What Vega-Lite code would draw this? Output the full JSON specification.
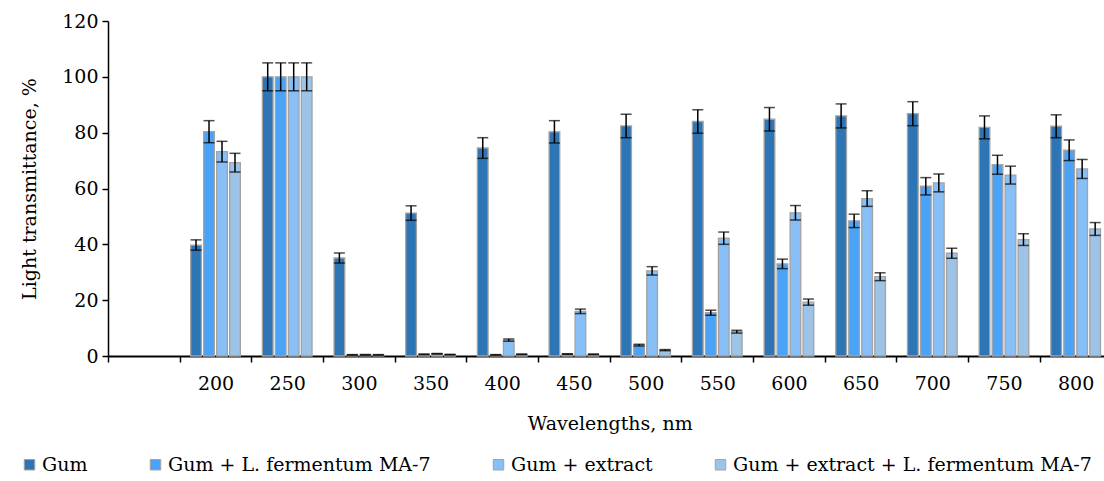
{
  "$schema": "https://vega.github.io/schema/vega-lite/v6.json",
  "autosize": "none",
  "padding": {"left": 108, "top": 21, "right": 0, "bottom": 125},
  "width": 996,
  "height": 335,
  "background": "white",
  "config": {
    "font": "DejaVu Serif",
    "view": {"stroke": null},
    "axis": {"labelFont": "DejaVu Serif", "titleFont": "DejaVu Serif", "labelColor": "black", "titleColor": "black", "titleFontWeight": "normal", "labelFontSize": 19, "titleFontSize": 19},
    "legend": {"labelFont": "DejaVu Serif"}
  },
  "data": {"values": [
    {"wl": "200", "s": "Gum", "v": 39.7, "lo": 37.9, "hi": 41.6},
    {"wl": "200", "s": "Gum + L. fermentum MA-7", "v": 80.4, "lo": 76.4, "hi": 84.3},
    {"wl": "200", "s": "Gum + extract", "v": 73.2, "lo": 69.5, "hi": 76.9},
    {"wl": "200", "s": "Gum + extract + L. fermentum MA-7", "v": 69.3, "lo": 65.9, "hi": 72.6},
    {"wl": "250", "s": "Gum", "v": 100, "lo": 95, "hi": 105},
    {"wl": "250", "s": "Gum + L. fermentum MA-7", "v": 100, "lo": 95, "hi": 105},
    {"wl": "250", "s": "Gum + extract", "v": 100, "lo": 95, "hi": 105},
    {"wl": "250", "s": "Gum + extract + L. fermentum MA-7", "v": 100, "lo": 95, "hi": 105},
    {"wl": "300", "s": "Gum", "v": 35.1, "lo": 33.3, "hi": 36.9},
    {"wl": "300", "s": "Gum + L. fermentum MA-7", "v": 0.4, "lo": 0.3, "hi": 0.5},
    {"wl": "300", "s": "Gum + extract", "v": 0.4, "lo": 0.3, "hi": 0.5},
    {"wl": "300", "s": "Gum + extract + L. fermentum MA-7", "v": 0.4, "lo": 0.3, "hi": 0.5},
    {"wl": "350", "s": "Gum", "v": 51.2, "lo": 48.6, "hi": 53.8},
    {"wl": "350", "s": "Gum + L. fermentum MA-7", "v": 0.6, "lo": 0.5, "hi": 0.7},
    {"wl": "350", "s": "Gum + extract", "v": 0.8, "lo": 0.7, "hi": 0.9},
    {"wl": "350", "s": "Gum + extract + L. fermentum MA-7", "v": 0.5, "lo": 0.4, "hi": 0.6},
    {"wl": "400", "s": "Gum", "v": 74.5, "lo": 70.8, "hi": 78.2},
    {"wl": "400", "s": "Gum + L. fermentum MA-7", "v": 0.4, "lo": 0.3, "hi": 0.5},
    {"wl": "400", "s": "Gum + extract", "v": 5.7, "lo": 5.3, "hi": 6.1},
    {"wl": "400", "s": "Gum + extract + L. fermentum MA-7", "v": 0.6, "lo": 0.5, "hi": 0.7},
    {"wl": "450", "s": "Gum", "v": 80.3, "lo": 76.3, "hi": 84.3},
    {"wl": "450", "s": "Gum + L. fermentum MA-7", "v": 0.7, "lo": 0.6, "hi": 0.8},
    {"wl": "450", "s": "Gum + extract", "v": 16.0, "lo": 15.2, "hi": 16.8},
    {"wl": "450", "s": "Gum + extract + L. fermentum MA-7", "v": 0.6, "lo": 0.5, "hi": 0.7},
    {"wl": "500", "s": "Gum", "v": 82.4, "lo": 78.2, "hi": 86.6},
    {"wl": "500", "s": "Gum + L. fermentum MA-7", "v": 3.9, "lo": 3.6, "hi": 4.2},
    {"wl": "500", "s": "Gum + extract", "v": 30.5, "lo": 29.0, "hi": 32.0},
    {"wl": "500", "s": "Gum + extract + L. fermentum MA-7", "v": 2.1, "lo": 1.9, "hi": 2.3},
    {"wl": "550", "s": "Gum", "v": 84.0, "lo": 79.8, "hi": 88.2},
    {"wl": "550", "s": "Gum + L. fermentum MA-7", "v": 15.5, "lo": 14.6, "hi": 16.4},
    {"wl": "550", "s": "Gum + extract", "v": 42.2, "lo": 40.0, "hi": 44.4},
    {"wl": "550", "s": "Gum + extract + L. fermentum MA-7", "v": 8.7, "lo": 8.2, "hi": 9.2},
    {"wl": "600", "s": "Gum", "v": 84.8, "lo": 80.6, "hi": 89.0},
    {"wl": "600", "s": "Gum + L. fermentum MA-7", "v": 33.0, "lo": 31.3, "hi": 34.7},
    {"wl": "600", "s": "Gum + extract", "v": 51.3, "lo": 48.7, "hi": 53.9},
    {"wl": "600", "s": "Gum + extract + L. fermentum MA-7", "v": 19.3, "lo": 18.2, "hi": 20.4},
    {"wl": "650", "s": "Gum", "v": 86.0, "lo": 81.7, "hi": 90.3},
    {"wl": "650", "s": "Gum + L. fermentum MA-7", "v": 48.4, "lo": 46.0, "hi": 50.8},
    {"wl": "650", "s": "Gum + extract", "v": 56.4, "lo": 53.6, "hi": 59.2},
    {"wl": "650", "s": "Gum + extract + L. fermentum MA-7", "v": 28.4, "lo": 27.0, "hi": 29.8},
    {"wl": "700", "s": "Gum", "v": 86.8, "lo": 82.5, "hi": 91.1},
    {"wl": "700", "s": "Gum + L. fermentum MA-7", "v": 60.8, "lo": 57.7, "hi": 63.9},
    {"wl": "700", "s": "Gum + extract", "v": 62.0, "lo": 58.8, "hi": 65.2},
    {"wl": "700", "s": "Gum + extract + L. fermentum MA-7", "v": 36.8, "lo": 35.0, "hi": 38.6},
    {"wl": "750", "s": "Gum", "v": 81.9, "lo": 77.8, "hi": 86.0},
    {"wl": "750", "s": "Gum + L. fermentum MA-7", "v": 68.5, "lo": 65.1, "hi": 71.9},
    {"wl": "750", "s": "Gum + extract", "v": 64.8, "lo": 61.6, "hi": 68.0},
    {"wl": "750", "s": "Gum + extract + L. fermentum MA-7", "v": 41.7, "lo": 39.6, "hi": 43.8},
    {"wl": "800", "s": "Gum", "v": 82.3, "lo": 78.2, "hi": 86.4},
    {"wl": "800", "s": "Gum + L. fermentum MA-7", "v": 73.7, "lo": 70.0, "hi": 77.4},
    {"wl": "800", "s": "Gum + extract", "v": 67.0, "lo": 63.6, "hi": 70.4},
    {"wl": "800", "s": "Gum + extract + L. fermentum MA-7", "v": 45.5, "lo": 43.2, "hi": 47.8}
  ]},
  "encoding": {
    "x": {
      "field": "wl", "type": "nominal",
      "scale": {"domain": ["", "200", "250", "300", "350", "400", "450", "500", "550", "600", "650", "700", "750", "800"], "range": [0, 1003.5], "paddingInner": 0.307, "paddingOuter": 0.1535},
      "axis": {"title": "Wavelengths, nm", "labelAngle": 0, "tickOffset": -35.84, "labelOffset": 35.84, "tickSize": 6, "tickColor": "black", "tickWidth": 1.5, "domainColor": "black", "domainWidth": 2, "labelPadding": 12, "titlePadding": 21}
    },
    "xOffset": {
      "field": "s", "type": "nominal",
      "scale": {"domain": ["Gum", "Gum + L. fermentum MA-7", "Gum + extract", "Gum + extract + L. fermentum MA-7"], "paddingInner": 0.177, "paddingOuter": 0}
    }
  },
  "layer": [
    {
      "mark": {"type": "bar", "stroke": "#A3A3A3", "strokeWidth": 1.3},
      "encoding": {
        "y": {
          "field": "v", "type": "quantitative",
          "scale": {"domain": [0, 120], "nice": false},
          "axis": {"title": "Light transmittance, %", "values": [0, 20, 40, 60, 80, 100, 120], "grid": false, "tickSize": 6, "tickColor": "black", "tickWidth": 1.5, "domainColor": "black", "domainWidth": 1.5, "labelPadding": 4, "titlePadding": 22}
        },
        "color": {
          "field": "s", "type": "nominal",
          "scale": {"domain": ["Gum", "Gum + L. fermentum MA-7", "Gum + extract", "Gum + extract + L. fermentum MA-7"], "range": ["#2E75B6", "#4BA3F7", "#87BFF6", "#9DC3E6"]},
          "legend": {
            "title": null, "orient": "none", "direction": "horizontal", "columns": 4,
            "legendX": -88, "legendY": 434,
            "symbolType": "square", "symbolSize": 110, "symbolStrokeColor": "#A3A3A3", "symbolStrokeWidth": 1,
            "labelFontSize": 19, "labelColor": "black", "labelLimit": 500, "labelOffset": 3,
            "columnPadding": 58
          }
        }
      }
    },
    {
      "mark": {"type": "rule", "color": "black", "strokeWidth": 1.5},
      "encoding": {
        "y": {"field": "lo", "type": "quantitative"},
        "y2": {"field": "hi"}
      }
    },
    {
      "mark": {"type": "tick", "color": "black", "thickness": 1.5, "size": 11, "orient": "horizontal"},
      "encoding": {"y": {"field": "lo", "type": "quantitative"}}
    },
    {
      "mark": {"type": "tick", "color": "black", "thickness": 1.5, "size": 11, "orient": "horizontal"},
      "encoding": {"y": {"field": "hi", "type": "quantitative"}}
    }
  ]
}
